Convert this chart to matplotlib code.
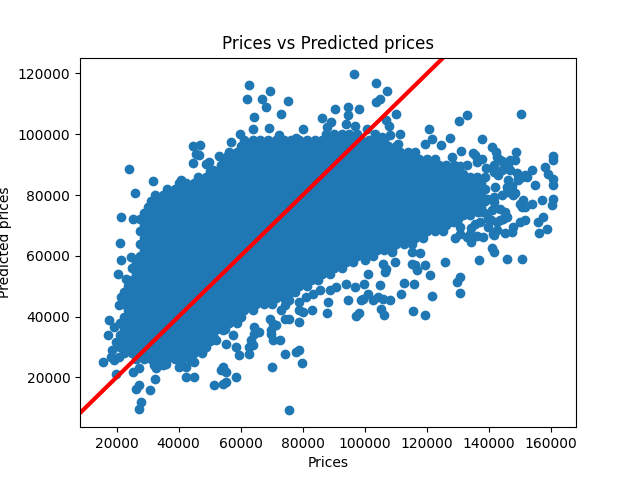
import matplotlib
matplotlib.use("Agg")
import matplotlib.pyplot as plt

# All values in thousands of dollars.
# Dense core of the cloud: one row of points per predicted-price level.
core_predicted = [24, 26, 28, 30, 32, 34, 36, 38, 40, 42, 44, 46, 48, 50, 52, 54,
                  56, 58, 60, 62, 64, 66, 68, 70, 72, 74, 76, 78, 80, 82, 84, 86,
                  88, 90, 92, 94, 96, 98, 100]
core_prices = [
    [32.5, 35],
    [26.2, 28.8, 31.2, 33.8, 36.2, 38.8, 41.2, 43.8],
    [22.5, 25, 27.5, 30, 32.5, 35, 37.5, 40, 42.5, 45, 47.5],
    [21.2, 23.8, 26.2, 28.8, 31.2, 33.8, 36.2, 38.8, 41.2, 43.8, 46.2, 48.8],
    [22.5, 25, 27.5, 30, 32.5, 35, 37.5, 40, 42.5, 45, 47.5, 50],
    [21.2, 23.8, 26.2, 28.8, 31.2, 33.8, 36.2, 38.8, 41.2, 43.8, 46.2, 48.8, 51.2],
    [22.5, 25, 27.5, 30, 32.5, 35, 37.5, 40, 42.5, 45, 47.5, 50, 52.5, 55],
    [21.2, 23.8, 26.2, 28.8, 31.2, 33.8, 36.2, 38.8, 41.2, 43.8, 46.2, 48.8, 51.2, 53.8, 56.2, 58.8],
    [22.5, 25, 27.5, 30, 32.5, 35, 37.5, 40, 42.5, 45, 47.5, 50, 52.5, 55, 57.5, 60],
    [23.8, 26.2, 28.8, 31.2, 33.8, 36.2, 38.8, 41.2, 43.8, 46.2, 48.8, 51.2, 53.8, 56.2, 58.8, 61.2, 63.8],
    [22.5, 25, 27.5, 30, 32.5, 35, 37.5, 40, 42.5, 45, 47.5, 50, 52.5, 55, 57.5, 60, 62.5, 65, 67.5, 70],
    [23.8, 26.2, 28.8, 31.2, 33.8, 36.2, 38.8, 41.2, 43.8, 46.2, 48.8, 51.2, 53.8, 56.2, 58.8, 61.2, 63.8, 66.2, 68.8, 71.2, 73.8],
    [22.5, 25, 27.5, 30, 32.5, 35, 37.5, 40, 42.5, 45, 47.5, 50, 52.5, 55, 57.5, 60, 62.5, 65, 67.5, 70, 72.5, 75, 77.5],
    [23.8, 26.2, 28.8, 31.2, 33.8, 36.2, 38.8, 41.2, 43.8, 46.2, 48.8, 51.2, 53.8, 56.2, 58.8, 61.2, 63.8, 66.2, 68.8, 71.2, 73.8, 76.2, 78.8, 81.2],
    [25, 27.5, 30, 32.5, 35, 37.5, 40, 42.5, 45, 47.5, 50, 52.5, 55, 57.5, 60, 62.5, 65, 67.5, 70, 72.5, 75, 77.5, 80, 82.5, 85],
    [26.2, 28.8, 31.2, 33.8, 36.2, 38.8, 41.2, 43.8, 46.2, 48.8, 51.2, 53.8, 56.2, 58.8, 61.2, 63.8, 66.2, 68.8, 71.2, 73.8, 76.2, 78.8, 81.2, 83.8, 86.2, 88.8],
    [25, 27.5, 30, 32.5, 35, 37.5, 40, 42.5, 45, 47.5, 50, 52.5, 55, 57.5, 60, 62.5, 65, 67.5, 70, 72.5, 75, 77.5, 80, 82.5, 85, 87.5, 90, 92.5],
    [26.2, 28.8, 31.2, 33.8, 36.2, 38.8, 41.2, 43.8, 46.2, 48.8, 51.2, 53.8, 56.2, 58.8, 61.2, 63.8, 66.2, 68.8, 71.2, 73.8, 76.2, 78.8, 81.2, 83.8, 86.2, 88.8, 91.2, 93.8, 96.2],
    [27.5, 30, 32.5, 35, 37.5, 40, 42.5, 45, 47.5, 50, 52.5, 55, 57.5, 60, 62.5, 65, 67.5, 70, 72.5, 75, 77.5, 80, 82.5, 85, 87.5, 90, 92.5, 95, 97.5, 100, 102.5],
    [28.8, 31.2, 33.8, 36.2, 38.8, 41.2, 43.8, 46.2, 48.8, 51.2, 53.8, 56.2, 58.8, 61.2, 63.8, 66.2, 68.8, 71.2, 73.8, 76.2, 78.8, 81.2, 83.8, 86.2, 88.8, 91.2, 93.8, 96.2, 98.8, 101.2, 103.8, 106.2, 108.8],
    [27.5, 30, 32.5, 35, 37.5, 40, 42.5, 45, 47.5, 50, 52.5, 55, 57.5, 60, 62.5, 65, 67.5, 70, 72.5, 75, 77.5, 80, 82.5, 85, 87.5, 90, 92.5, 95, 97.5, 100, 102.5, 105, 107.5, 110, 112.5, 115],
    [28.8, 31.2, 33.8, 36.2, 38.8, 41.2, 43.8, 46.2, 48.8, 51.2, 53.8, 56.2, 58.8, 61.2, 63.8, 66.2, 68.8, 71.2, 73.8, 76.2, 78.8, 81.2, 83.8, 86.2, 88.8, 91.2, 93.8, 96.2, 98.8, 101.2, 103.8, 106.2, 108.8, 111.2, 113.8, 116.2, 118.8],
    [27.5, 30, 32.5, 35, 37.5, 40, 42.5, 45, 47.5, 50, 52.5, 55, 57.5, 60, 62.5, 65, 67.5, 70, 72.5, 75, 77.5, 80, 82.5, 85, 87.5, 90, 92.5, 95, 97.5, 100, 102.5, 105, 107.5, 110, 112.5, 115, 117.5, 120, 122.5, 125],
    [28.8, 31.2, 33.8, 36.2, 38.8, 41.2, 43.8, 46.2, 48.8, 51.2, 53.8, 56.2, 58.8, 61.2, 63.8, 66.2, 68.8, 71.2, 73.8, 76.2, 78.8, 81.2, 83.8, 86.2, 88.8, 91.2, 93.8, 96.2, 98.8, 101.2, 103.8, 106.2, 108.8, 111.2, 113.8, 116.2, 118.8, 121.2, 123.8, 126.2],
    [27.5, 30, 32.5, 35, 37.5, 40, 42.5, 45, 47.5, 50, 52.5, 55, 57.5, 60, 62.5, 65, 67.5, 70, 72.5, 75, 77.5, 80, 82.5, 85, 87.5, 90, 92.5, 95, 97.5, 100, 102.5, 105, 107.5, 110, 112.5, 115, 117.5, 120, 122.5, 125, 127.5, 130],
    [28.8, 31.2, 33.8, 36.2, 38.8, 41.2, 43.8, 46.2, 48.8, 51.2, 53.8, 56.2, 58.8, 61.2, 63.8, 66.2, 68.8, 71.2, 73.8, 76.2, 78.8, 81.2, 83.8, 86.2, 88.8, 91.2, 93.8, 96.2, 98.8, 101.2, 103.8, 106.2, 108.8, 111.2, 113.8, 116.2, 118.8, 121.2, 123.8, 126.2, 128.8, 131.2],
    [30, 32.5, 35, 37.5, 40, 42.5, 45, 47.5, 50, 52.5, 55, 57.5, 60, 62.5, 65, 67.5, 70, 72.5, 75, 77.5, 80, 82.5, 85, 87.5, 90, 92.5, 95, 97.5, 100, 102.5, 105, 107.5, 110, 112.5, 115, 117.5, 120, 122.5, 125, 127.5, 130, 132.5, 135, 137.5],
    [31.2, 33.8, 36.2, 38.8, 41.2, 43.8, 46.2, 48.8, 51.2, 53.8, 56.2, 58.8, 61.2, 63.8, 66.2, 68.8, 71.2, 73.8, 76.2, 78.8, 81.2, 83.8, 86.2, 88.8, 91.2, 93.8, 96.2, 98.8, 101.2, 103.8, 106.2, 108.8, 111.2, 113.8, 116.2, 118.8, 121.2, 123.8, 126.2, 128.8, 131.2, 133.8, 136.2, 138.8],
    [32.5, 35, 37.5, 40, 42.5, 45, 47.5, 50, 52.5, 55, 57.5, 60, 62.5, 65, 67.5, 70, 72.5, 75, 77.5, 80, 82.5, 85, 87.5, 90, 92.5, 95, 97.5, 100, 102.5, 105, 107.5, 110, 112.5, 115, 117.5, 120, 122.5, 125, 127.5, 130, 132.5, 135, 137.5],
    [36.2, 38.8, 41.2, 43.8, 46.2, 48.8, 51.2, 53.8, 56.2, 58.8, 61.2, 63.8, 66.2, 68.8, 71.2, 73.8, 76.2, 78.8, 81.2, 83.8, 86.2, 88.8, 91.2, 93.8, 96.2, 98.8, 101.2, 103.8, 106.2, 108.8, 111.2, 113.8, 116.2, 118.8, 121.2, 123.8, 126.2, 128.8, 131.2, 133.8, 136.2, 138.8],
    [40, 42.5, 45, 47.5, 50, 52.5, 55, 57.5, 60, 62.5, 65, 67.5, 70, 72.5, 75, 77.5, 80, 82.5, 85, 87.5, 90, 92.5, 95, 97.5, 100, 102.5, 105, 107.5, 110, 112.5, 115, 117.5, 120, 122.5, 125, 127.5, 130, 132.5, 135, 137.5],
    [46.2, 48.8, 51.2, 53.8, 56.2, 58.8, 61.2, 63.8, 66.2, 68.8, 71.2, 73.8, 76.2, 78.8, 81.2, 83.8, 86.2, 88.8, 91.2, 93.8, 96.2, 98.8, 101.2, 103.8, 106.2, 108.8, 111.2, 113.8, 116.2, 118.8, 121.2, 123.8, 126.2, 128.8, 131.2, 133.8, 136.2, 138.8],
    [50, 52.5, 55, 57.5, 60, 62.5, 65, 67.5, 70, 72.5, 75, 77.5, 80, 82.5, 85, 87.5, 90, 92.5, 95, 97.5, 100, 102.5, 105, 107.5, 110, 112.5, 115, 117.5, 120, 122.5, 125, 127.5, 130],
    [53.8, 56.2, 58.8, 61.2, 63.8, 66.2, 68.8, 71.2, 73.8, 76.2, 78.8, 81.2, 83.8, 86.2, 88.8, 91.2, 93.8, 96.2, 98.8, 101.2, 103.8, 106.2, 108.8, 111.2, 113.8, 116.2, 118.8, 121.2, 123.8, 126.2, 128.8],
    [55, 57.5, 60, 62.5, 65, 67.5, 70, 72.5, 75, 77.5, 80, 82.5, 85, 87.5, 90, 92.5, 95, 97.5, 100, 102.5, 105, 107.5, 110, 112.5, 115, 117.5, 120, 122.5],
    [56.2, 58.8, 61.2, 63.8, 66.2, 68.8, 71.2, 73.8, 76.2, 78.8, 81.2, 83.8, 86.2, 88.8, 91.2, 93.8, 96.2, 98.8, 101.2, 103.8, 106.2, 108.8, 111.2, 113.8, 116.2],
    [60, 62.5, 65, 67.5, 70, 72.5, 75, 77.5, 80, 82.5, 85, 87.5, 90, 92.5, 95, 97.5, 100, 102.5, 105, 107.5, 110],
    [61.2, 63.8, 66.2, 68.8, 71.2, 73.8, 76.2, 78.8, 81.2, 83.8, 86.2, 88.8, 91.2, 93.8, 96.2, 98.8, 101.2, 103.8, 106.2],
    [87.5, 90, 92.5, 95, 97.5],
]

# Scattered points around the core (price, predicted), thousands.
edge_prices = [
    62.8, 69.3, 61.9, 66.9, 68.0, 75.2, 73.0, 64.4, 86.3, 64.1, 69.0, 59.9, 56.9, 80.0, 72.3, 77.9,
    44.5, 46.9, 46.7, 53.1, 55.8, 44.5, 49.9, 45.6, 48.8, 51.0, 24.1, 31.8, 40.8, 26.0, 21.6, 25.4,
    21.2, 21.6, 24.6, 20.5, 23.0, 24.6, 21.4, 20.9, 17.6, 19.3, 17.1, 19.8, 18.7, 18.2, 15.5, 19.3,
    20.9, 19.8, 25.2, 27.3, 26.3, 27.3, 27.9, 27.1, 30.9, 32.5, 32.2, 42.4, 45.1, 40.2, 42.4, 35.9,
    32.7, 47.7, 45.1, 52.1, 55.3, 58.5, 51.0, 54.2, 57.4, 51.5, 54.2, 55.3, 53.7, 55.3, 58.5, 54.2,
    96.4, 103.4, 107.1, 103.7, 104.7, 90.2, 94.7, 98.1, 94.7, 89.2, 87.9, 93.8, 96.7, 106.9, 107.6, 111.2,
    108.0, 100.5, 103.1, 105.6, 109.9, 150.1, 132.7, 130.3, 120.6, 127.3, 137.8, 119.3, 110.5, 140.8, 142.2, 135.4,
    137.6, 148.8, 148.3, 160.7, 160.7, 144.0, 146.1, 153.7, 158.0, 159.0, 160.7, 160.7, 150.5, 151.5, 149.4, 154.7,
    160.7, 160.3, 156.9, 153.7, 150.5, 151.0, 157.4, 155.6, 149.9, 147.8, 147.2, 158.7, 156.2, 145.1, 144.5, 142.4,
    141.3, 139.2, 139.7, 135.4, 133.8, 134.3, 130.6, 130.6, 141.6, 145.6, 150.7, 136.7, 125.7, 141.4, 144.0, 130.6,
    131.6, 133.8, 135.9, 145.6, 147.8, 139.2, 141.4, 143.5, 138.1, 134.8, 133.8, 132.7, 141.4, 134.8, 143.5, 146.7,
    146.7, 149.3, 148.9, 152.2, 145.7, 147.3, 148.3, 149.9, 151.5, 145.7, 143.5, 151.5, 140.6, 138.0, 142.6, 145.0,
    140.9, 142.5, 145.0, 143.0, 146.0, 142.0, 144.0, 141.5, 147.5, 141.0, 137.0, 134.0, 128.5, 131.5, 136.5, 139.5,
    136.0, 129.0, 133.0, 136.0, 139.0, 141.5, 128.0, 131.0, 124.5, 121.5,
    75.5, 70.0, 79.7, 78.7, 77.9, 74.4, 59.6, 62.8, 63.9, 62.8, 70.3, 72.5, 69.8, 64.4, 63.4, 66.0,
    64.4, 69.3, 70.3, 71.4, 69.8, 74.1, 75.7, 78.9, 73.0, 74.1, 78.9, 78.9, 80.0, 83.0, 87.7, 88.1,
    75.2, 75.7, 81.1, 83.2, 85.4, 88.6, 90.8, 94.0, 96.7, 94.5, 98.8, 97.2, 98.1, 99.4, 101.0, 102.6,
    104.2, 99.7, 104.7, 105.8, 108.2, 105.3, 106.1, 111.7, 112.6, 115.8, 121.6, 115.5, 119.3, 129.5, 130.6, 130.6,
    116.0, 116.6, 119.3, 120.9, 109.6, 106.4, 105.8, 106.9, 99.9, 101.0, 108.8, 115.0, 117.7, 115.0, 97.7, 94.0,
    91.3,
]
edge_predicted = [
    116.1, 114.1, 111.5, 111.7, 108.9, 110.8, 106.8, 105.6, 105.5, 101.8, 102.0, 100.2, 97.6, 101.8, 99.8, 98.7,
    96.1, 96.3, 93.3, 93.0, 93.3, 90.6, 90.8, 93.6, 90.3, 88.1, 88.7, 84.7, 85.1, 80.5, 72.9, 72.2,
    64.3, 58.7, 59.6, 54.1, 52.5, 50.8, 46.4, 43.7, 38.8, 36.5, 33.8, 31.6, 28.9, 26.7, 25.0, 25.6,
    26.7, 21.0, 21.7, 22.9, 16.3, 17.4, 11.9, 9.7, 15.7, 19.6, 24.0, 20.1, 20.1, 23.4, 23.4, 24.5,
    22.9, 29.4, 25.0, 32.2, 31.1, 30.0, 33.3, 35.5, 33.8, 17.4, 17.9, 18.3, 22.3, 21.7, 20.1, 23.3,
    119.7, 117.0, 114.1, 110.6, 111.7, 108.4, 108.9, 108.4, 106.4, 104.0, 102.3, 103.5, 102.7, 104.6, 102.6, 100.2,
    99.6, 101.8, 100.2, 99.1, 106.8, 106.8, 106.5, 104.3, 101.8, 98.7, 98.5, 96.9, 96.9, 95.8, 94.1, 93.3,
    92.0, 94.1, 91.6, 92.7, 91.4, 91.2, 90.3, 88.1, 89.2, 87.0, 85.4, 83.2, 85.9, 86.5, 85.4, 83.2,
    78.8, 76.6, 78.2, 77.1, 76.0, 78.2, 72.7, 71.1, 71.1, 69.4, 67.8, 68.9, 67.6, 74.4, 72.2, 71.1,
    67.3, 73.8, 72.2, 70.6, 67.3, 64.5, 69.4, 67.3, 61.2, 59.0, 59.0, 58.7, 57.9, 87.5, 88.1, 89.7,
    87.0, 84.3, 82.1, 81.0, 79.9, 78.8, 77.7, 75.5, 74.4, 75.5, 73.3, 66.2, 66.7, 93.7, 91.4, 91.4,
    88.1, 84.8, 87.1, 85.8, 82.5, 81.5, 80.5, 77.2, 75.9, 72.6, 71.7, 71.7, 71.7, 66.1, 68.4, 67.4,
    62.4, 92.5, 89.0, 86.5, 85.0, 82.5, 80.0, 79.5, 83.0, 75.0, 71.0, 69.0, 71.0, 73.5, 74.5, 69.5,
    66.5, 66.0, 90.0, 91.0, 89.0, 90.0, 92.5, 94.5, 96.5, 98.5,
    9.1, 23.4, 24.8, 29.1, 28.3, 27.8, 27.2, 27.8, 30.5, 30.0, 32.2, 32.2, 34.4, 34.4, 32.2, 34.9,
    36.5, 39.3, 37.7, 37.1, 35.5, 39.3, 39.3, 38.2, 42.0, 43.7, 44.8, 42.0, 41.5, 42.3, 41.2, 44.8,
    47.0, 45.3, 46.4, 47.5, 48.6, 48.6, 49.7, 50.8, 49.7, 45.3, 45.3, 40.1, 41.0, 45.9, 47.5, 45.6,
    46.4, 50.8, 50.3, 45.9, 45.3, 42.6, 40.4, 47.5, 51.0, 50.8, 46.6, 41.8, 40.4, 51.4, 53.0, 47.7,
    56.8, 55.2, 56.8, 53.6, 57.9, 54.6, 57.4, 55.8, 58.5, 54.1, 61.2, 61.2, 60.9, 57.4, 60.1, 59.1,
    58.7,
]

prices = []
predicted = []
for level, row in zip(core_predicted, core_prices):
    for p in row:
        prices.append(p * 1000)
        predicted.append(level * 1000)
for p, q in zip(edge_prices, edge_predicted):
    prices.append(p * 1000)
    predicted.append(q * 1000)

fig, ax = plt.subplots(figsize=(6.4, 4.8), dpi=100)
ax.scatter(prices, predicted)
ax.autoscale_view()
xlim = ax.get_xlim()
ylim = ax.get_ylim()
ax.axline((xlim[0], xlim[0]), slope=1, color="red", linewidth=3)
ax.set_xlim(xlim)
ax.set_ylim(ylim)
ax.set_title("Prices vs Predicted prices")
ax.set_xlabel("Prices")
ax.set_ylabel("Predicted prices")
fig.savefig("out.png", dpi=100)
